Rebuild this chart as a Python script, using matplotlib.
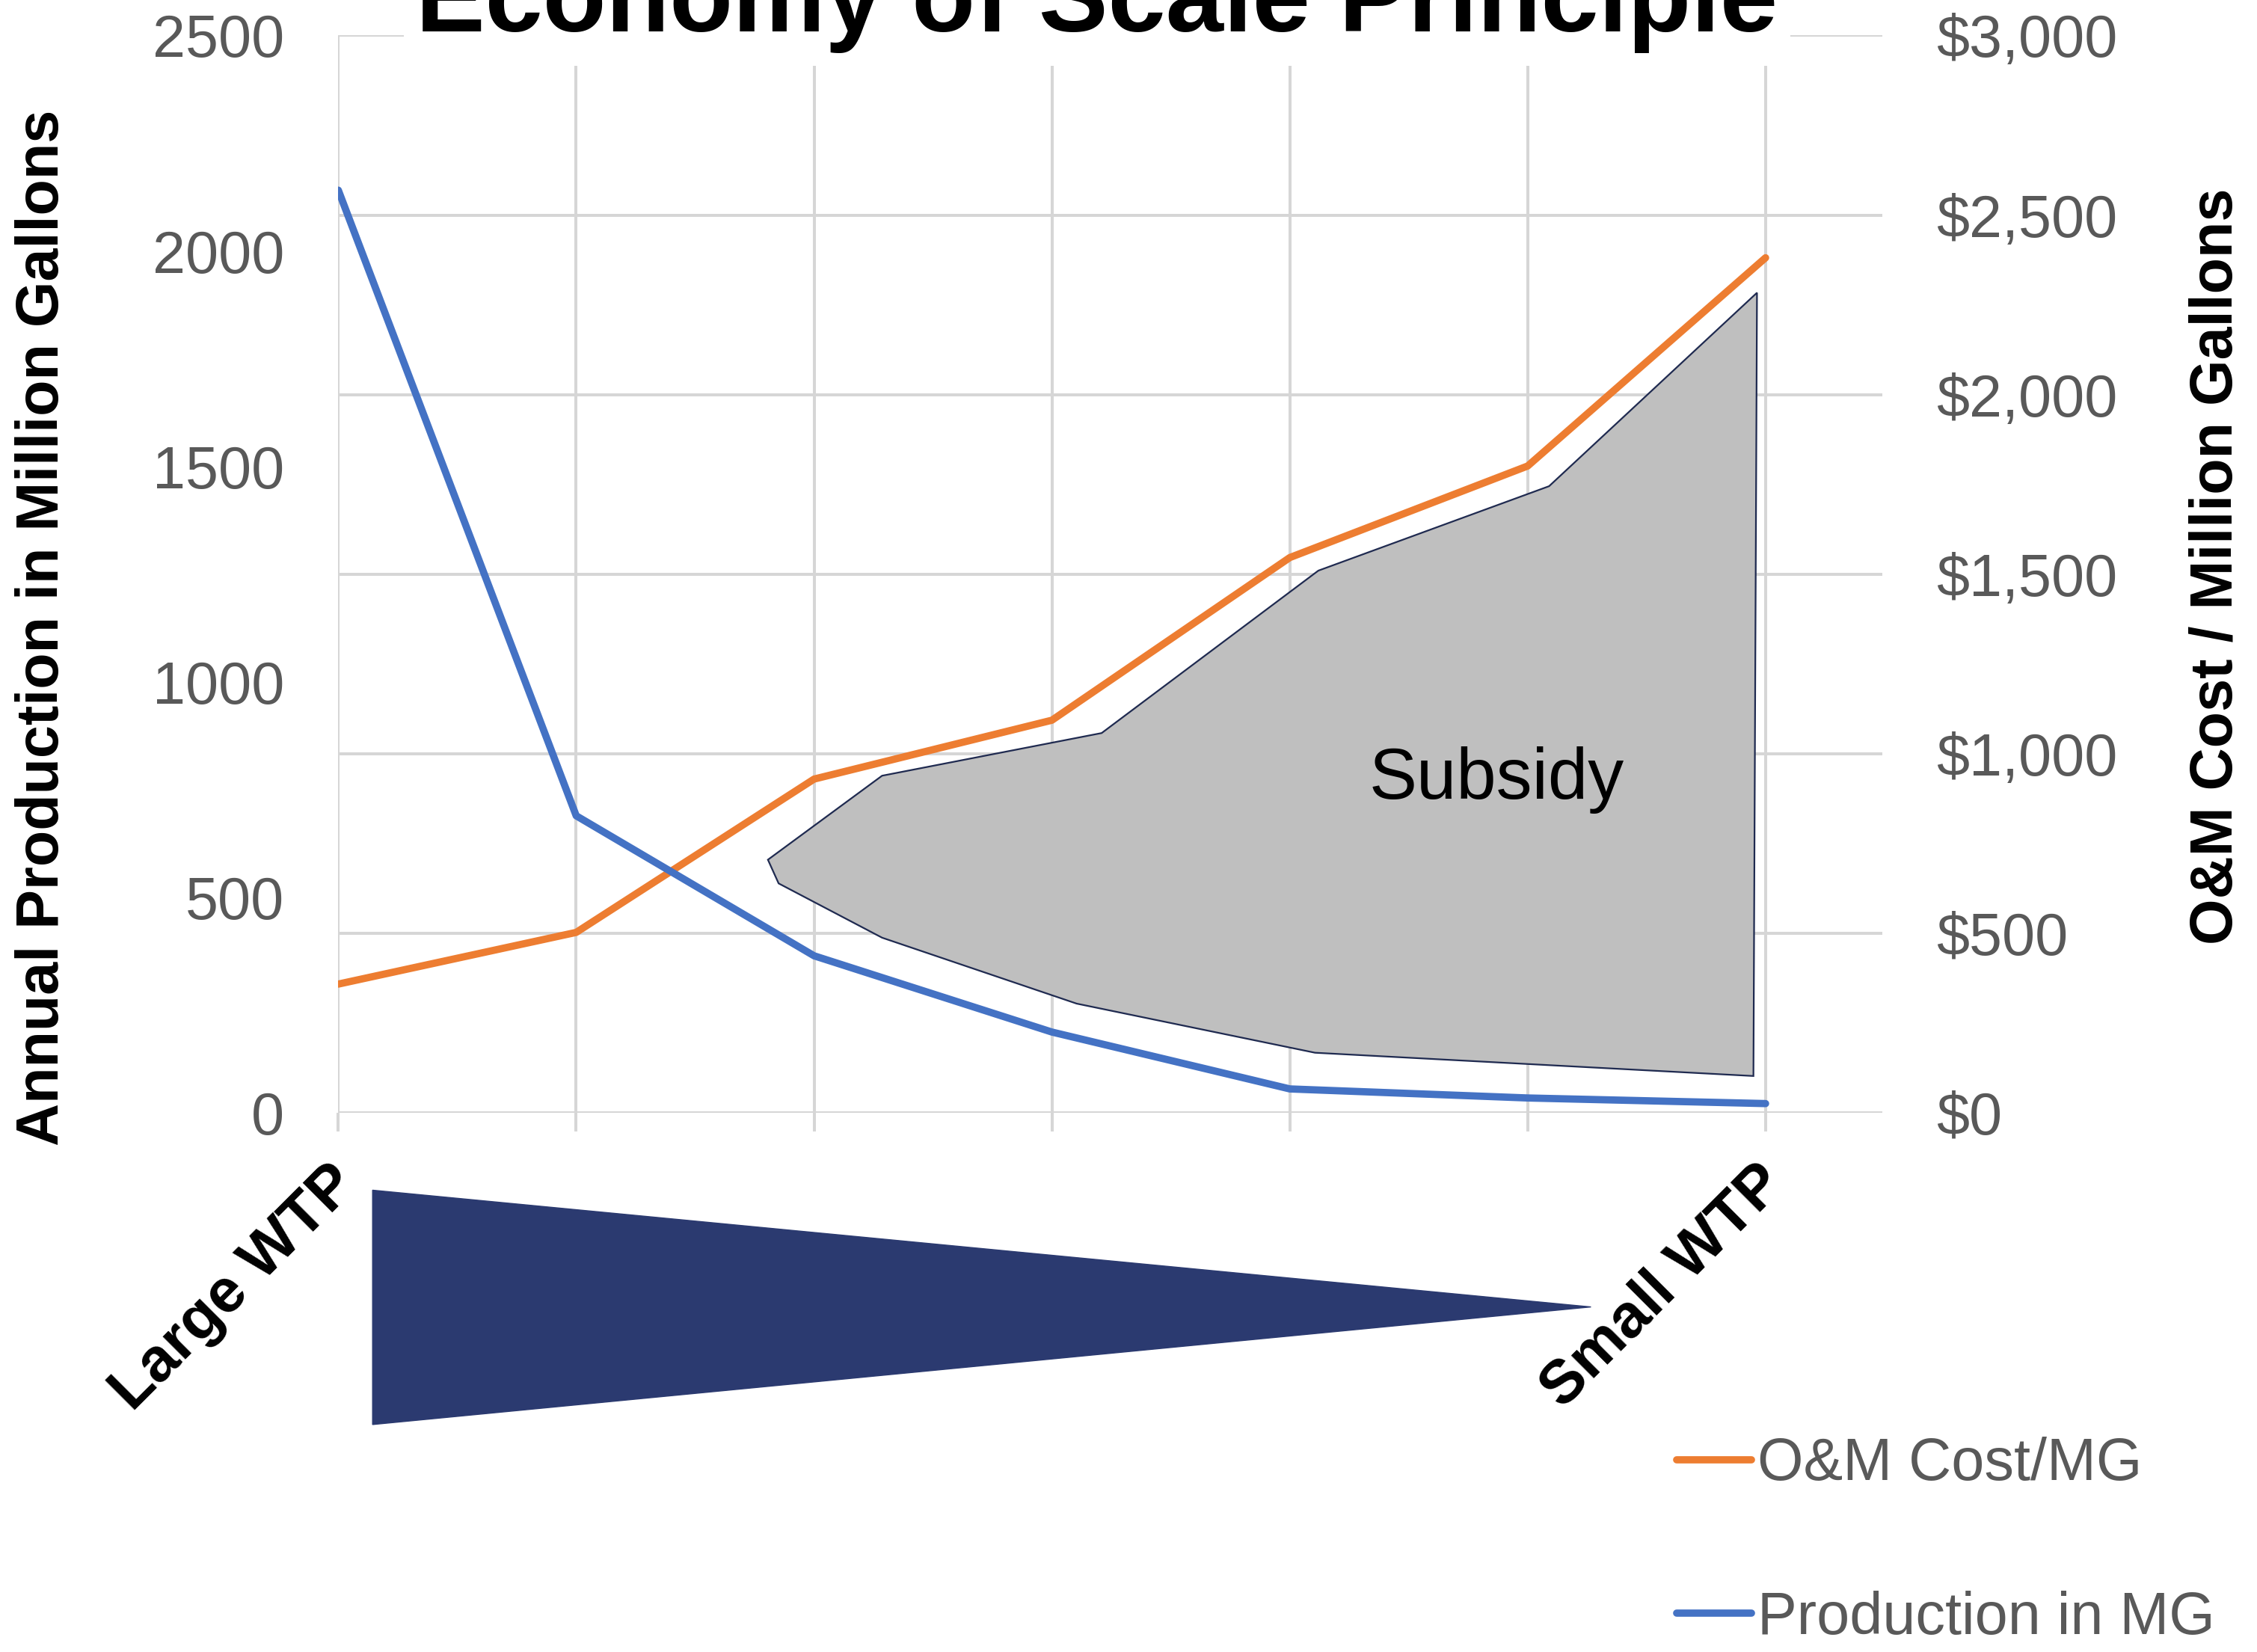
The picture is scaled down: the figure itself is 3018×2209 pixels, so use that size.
import numpy as np
import matplotlib
matplotlib.use("Agg")
import matplotlib.pyplot as plt
from matplotlib.transforms import ScaledTranslation

plt.rcParams['font.family'] = ['Liberation Sans', 'DejaVu Sans']

# dati
categorie = ['Large WTP', '', '', '', '', '', 'Small WTP']
produzione = [2141, 689, 364, 187, 55, 34, 21]          # milioni di galloni
costo_om = [358, 502, 929, 1093, 1546, 1801, 2381]      # $ / milione di galloni

# area "Subsidy" (x in categorie, y in scala produzione)
sussidio_x = [1.806, 2.286, 3.209, 4.12, 5.09, 5.964, 5.949, 4.106, 3.104, 2.286, 1.851]
sussidio_y = [587, 782, 881, 1258, 1454, 1903, 85, 139, 253, 406, 532]

# freccia triangolare sotto l'asse
freccia_x = [0.144, 0.144, 5.266]
freccia_y = [-180, -724, -451]

sinistra_ticks = [0, 500, 1000, 1500, 2000, 2500]
destra_ticks = [0, 500, 1000, 1500, 2000, 2500, 3000]

arancio = '#ED7D31'
blu = '#4472C4'
griglia = '#d6d6d6'
grigio_testo = '#595959'
fs = 57

fig = plt.figure(figsize=(30.18, 22.09), dpi=100, facecolor='w')
ax = fig.add_axes([0.1499, 0.3265, 0.684, 0.652])
ax_sx = ax.twinx()
ax.yaxis.tick_right()
ax_sx.yaxis.tick_left()

x = np.arange(len(categorie))

# asse destro: costo O&M e griglia
linea_costo, = ax.plot(x, costo_om, color=arancio, lw=7, solid_capstyle='round',
                       label='O&M Cost/MG')
ax.set_xlim(0, 6.49)
ax.set_ylim(0, 3000)
ax.set_yticks(destra_ticks)
ax.set_yticklabels(['${:,}'.format(v) for v in destra_ticks])
ax.set_xticks(x)
ax.set_xticklabels(categorie, rotation=45, ha='right', va='top',
                   rotation_mode='anchor', fontweight='bold')
ax.grid(True, axis='both', color=griglia, lw=2.9)
ax.set_axisbelow(True)
ax.tick_params(axis='y', length=0, pad=52, labelsize=fs, labelcolor=grigio_testo)
ax.tick_params(axis='x', length=18, width=2.9, color=griglia, pad=30,
               labelsize=59, labelcolor='black')
for lab in ax.get_xticklabels():
    lab.set_transform(lab.get_transform() + ScaledTranslation(-0.14, 0.1, fig.dpi_scale_trans))

# asse sinistro: produzione, area sussidio, freccia
ax_sx.fill(sussidio_x, sussidio_y, facecolor='#bfbfbf', edgecolor='#1f2a50', lw=1.6, zorder=1)
linea_prod, = ax_sx.plot(x, produzione, color=blu, lw=7, solid_capstyle='round',
                         label='Production in MG', zorder=2)
ax_sx.fill(freccia_x, freccia_y, color='#2b3a70', clip_on=False)
ax_sx.text(4.87, 772, 'Subsidy', fontsize=69, ha='center', va='center', color='black')
ax_sx.set_ylim(0, 2500)
ax_sx.set_yticks(sinistra_ticks)
ax_sx.set_yticklabels([str(v) for v in sinistra_ticks])
ax_sx.tick_params(axis='y', length=0, pad=52, labelsize=fs, labelcolor=grigio_testo)

for a in (ax, ax_sx):
    for s in a.spines.values():
        s.set_visible(False)

# titolo ed etichette assi
fig.text(0.486, 1 - 42 / 2209, 'Economy of Scale Principle', ha='center', va='baseline',
         fontsize=100, fontweight='bold',
         bbox=dict(boxstyle='square,pad=0.12', facecolor='white', edgecolor='none'))
fig.text(0.019, 0.620, 'Annual Production in Million Gallons', rotation=90,
         ha='center', va='center', fontsize=fs, fontweight='bold')
fig.text(0.982, 0.657, 'O&M Cost / Million Gallons', rotation=90,
         ha='center', va='center', fontsize=fs, fontweight='bold')

fig.legend(handles=[linea_costo, linea_prod], loc='center left',
           bbox_to_anchor=(0.743, 0.0667), frameon=False, fontsize=fs,
           labelcolor=grigio_testo, handlelength=1.26, handletextpad=0.1,
           labelspacing=1.65, borderpad=0, borderaxespad=0)

plt.savefig('out.png', dpi=100)
